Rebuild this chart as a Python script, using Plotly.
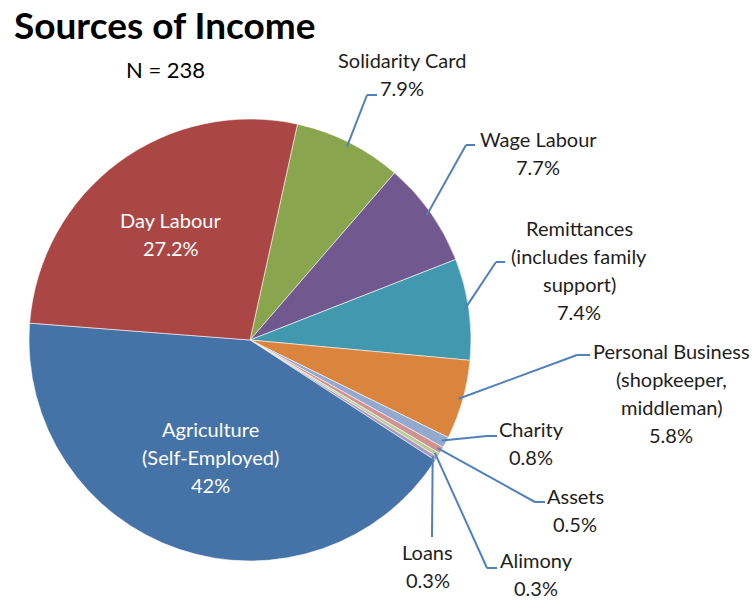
import math
import plotly.graph_objects as go

# ---- data: income sources in clockwise slice order ----
sources = [
    "Solidarity Card", "Wage Labour", "Remittances (includes family support)",
    "Personal Business (shopkeeper, middleman)", "Charity", "Assets", "Alimony",
    "Loans", "Agriculture (Self-Employed)", "Day Labour",
]
label_lines = [
    ["Solidarity Card"], ["Wage Labour"],
    ["Remittances", "(includes family", "support)"],
    ["Personal Business", "(shopkeeper,", "middleman)"],
    ["Charity"], ["Assets"], ["Alimony"], ["Loans"],
    ["Agriculture", "(Self-Employed)"], ["Day Labour"],
]
shares = [7.9, 7.7, 7.4, 5.8, 0.8, 0.5, 0.3, 0.3, 42.0, 27.2]
sample_size = 238

colors = ["#89A54E", "#71588F", "#4198AF", "#DB843D", "#93A9CF",
          "#D19392", "#B9CD96", "#A99BBD", "#4572A7", "#AA4643"]

# ---- layout geometry (pixels) ----
W, H = 754, 600
CX, CY, R = 250, 340, 221
ROTATION = 12.4
LINE_GAP = 28
FONT = "Lato, 'Open Sans', sans-serif"
TEXT_COLOR = "#1e1e1e"
LEADER_COLOR = "#4F81BD"
LABEL_SIZE = 20

# outside labels: text centre x, first line y, elbow point, end of the short hook
outside = {
    "Solidarity Card": dict(tx=402, ty=60, ex=367, ey=95, hx=377),
    "Wage Labour": dict(tx=538, ty=139, ex=466, ey=145, hx=475),
    "Remittances (includes family support)": dict(tx=579, ty=228, ex=496, ey=262, hx=505),
    "Personal Business (shopkeeper, middleman)": dict(tx=671, ty=351, ex=577, ey=355, hx=590),
    "Charity": dict(tx=531, ty=429, ex=487, ey=436, hx=497),
    "Assets": dict(tx=575, ty=496, ex=535, ey=502, hx=545),
    "Alimony": dict(tx=536, ty=560, ex=487, ey=568, hx=497),
    "Loans": dict(tx=428, ty=552, ex=432, ey=537, hx=432),
}
# inside labels: fraction of the radius along the slice bisector
inside = {"Agriculture (Self-Employed)": 0.56, "Day Labour": 0.60}
ANCHOR_K = 0.98


def px(x):
    return x / W


def py(y):
    return 1 - y / H


def pct(v):
    return f"{v:g}%"


total = sum(shares)
mid_angles = []
acc = 0.0
for v in shares:
    mid_angles.append(ROTATION + (acc + v / 2) / total * 360.0)
    acc += v


def polar(angle_deg, r):
    a = math.radians(angle_deg)
    return CX + r * math.sin(a), CY - r * math.cos(a)


fig = go.Figure(go.Pie(
    labels=sources,
    values=shares,
    sort=False,
    direction="clockwise",
    rotation=ROTATION,
    textinfo="none",
    hoverinfo="label+percent",
    marker=dict(colors=colors, line=dict(color="rgba(255,255,255,0.7)", width=0.8)),
    domain=dict(x=[px(CX - R), px(CX + R)], y=[py(CY + R), py(CY - R)]),
    showlegend=False,
))

annotations = []
shapes = []


def add_lines(lines, cx, y0, color, size=LABEL_SIZE):
    for i, t in enumerate(lines):
        annotations.append(dict(
            x=px(cx), y=py(y0 + i * LINE_GAP), xref="paper", yref="paper",
            text=t, showarrow=False, xanchor="center", yanchor="middle",
            font=dict(family=FONT, size=size, color=color),
        ))


for name, lines, v, ang in zip(sources, label_lines, shares, mid_angles):
    text_lines = lines + [pct(v)]
    if name in inside:
        lx, ly = polar(ang, inside[name] * R)
        first = ly - (len(text_lines) - 1) * LINE_GAP / 2
        add_lines(text_lines, lx, first, "white")
    else:
        spec = outside[name]
        add_lines(text_lines, spec["tx"], spec["ty"], TEXT_COLOR)
        ax, ay = polar(ang, ANCHOR_K * R)
        shapes.append(dict(type="line", xref="paper", yref="paper",
                           x0=px(ax), y0=py(ay), x1=px(spec["ex"]), y1=py(spec["ey"]),
                           line=dict(color=LEADER_COLOR, width=2)))
        if spec["hx"] != spec["ex"]:
            shapes.append(dict(type="line", xref="paper", yref="paper",
                               x0=px(spec["ex"]), y0=py(spec["ey"]),
                               x1=px(spec["hx"]), y1=py(spec["ey"]),
                               line=dict(color=LEADER_COLOR, width=2)))

# sample size under the title
annotations.append(dict(
    x=px(165), y=py(69), xref="paper", yref="paper", text=f"N = {sample_size}",
    showarrow=False, xanchor="center", yanchor="middle",
    font=dict(family=FONT, size=22, color="#000000"),
))

fig.update_layout(
    width=W, height=H,
    margin=dict(l=0, r=0, t=0, b=0),
    paper_bgcolor="white",
    plot_bgcolor="white",
    title=dict(text="<b>Sources of Income</b>", x=px(14), xanchor="left",
               y=py(26), yanchor="middle",
               font=dict(family=FONT, size=37, color="#000000")),
    annotations=annotations,
    shapes=shapes,
)

fig.write_html("out.html")
